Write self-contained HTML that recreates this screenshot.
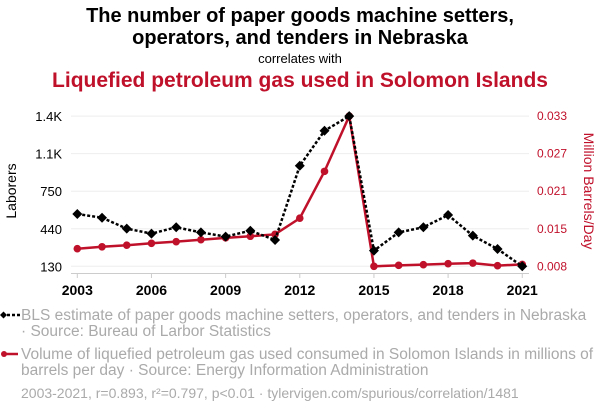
<!DOCTYPE html>
<html><head><meta charset="utf-8">
<style>
body{margin:0;width:600px;height:414px;background:#fff;font-family:"Liberation Sans",sans-serif;overflow:hidden}
svg{display:block}
</style></head><body>
<svg id="chart" width="600" height="414" font-family="Liberation Sans, sans-serif">
<text x="300" y="22" text-anchor="middle" font-size="20" font-weight="bold" fill="#000">The number of paper goods machine setters,</text>
<text x="300" y="44" text-anchor="middle" font-size="20" font-weight="bold" fill="#000">operators, and tenders in Nebraska</text>
<text x="300" y="63" text-anchor="middle" font-size="13" fill="#000">correlates with</text>
<text x="300" y="87" text-anchor="middle" font-size="21" font-weight="bold" fill="#c0112b">Liquefied petroleum gas used in Solomon Islands</text>
<text transform="translate(16,191) rotate(-90)" text-anchor="middle" font-size="14" fill="#000">Laborers</text>
<text transform="translate(584,191) rotate(90)" text-anchor="middle" font-size="14" fill="#c0112b">Million Barrels/Day</text>
<g id="grid"></g><g id="axes"></g><g id="marks"></g>
<g font-size="15.5" fill="#aaa">
<line x1="2" y1="315" x2="20" y2="315" stroke="#000" stroke-width="2.5" stroke-dasharray="3,2"/>
<path d="M0,315 L3.5,311.5 L7,315 L3.5,318.5Z" fill="#000"/>
<text x="21" y="320">BLS estimate of paper goods machine setters, operators, and tenders in Nebraska</text>
<text x="21" y="336">· Source: Bureau of Larbor Statistics</text>
<line x1="2" y1="354" x2="18" y2="354" stroke="#c0112b" stroke-width="2.5"/>
<circle cx="4" cy="354" r="3" fill="#c0112b"/>
<text x="21" y="359">Volume of liquefied petroleum gas used consumed in Solomon Islands in millions of</text>
<text x="21" y="375">barrels per day · Source: Energy Information Administration</text>
<text x="21" y="398" font-size="14">2003-2021, r=0.893, r²=0.797, p&lt;0.01 · tylervigen.com/spurious/correlation/1481</text>
</g>
</svg>
<script>
const years=[2003,2004,2005,2006,2007,2008,2009,2010,2011,2012,2013,2014,2015,2016,2017,2018,2019,2020,2021];
const laborers=[562,531,441,400,452,410,375,424,347,960,1249,1370,259,410,452,553,383,273,130];
const lpg=[0.01093,0.01125,0.01151,0.01183,0.0121,0.01242,0.01274,0.0130,0.01332,0.01600,0.0238,0.033,0.008,0.00816,0.00827,0.00843,0.00853,0.00811,0.00832];
const leftTicks=[130,440,750,1060,1370];
const leftTickLabels=["130","440","750","1.1K","1.4K"];
const rightTicks=[0.008,0.01425,0.0205,0.02675,0.033];
const rightTickLabels=["0.008","0.015","0.021","0.027","0.033"];
const xTicks=[2003,2006,2009,2012,2015,2018,2021];
const NS="http://www.w3.org/2000/svg";
const x=v=>77.3+(v-2003)*24.72;
const yL=v=>266.3-(v-130)/1240*150.2;
const yR=v=>266.3-(v-0.008)/0.025*150.2;
function mk(tag,attrs,parent){const e=document.createElementNS(NS,tag);for(const k in attrs)e.setAttribute(k,attrs[k]);parent.appendChild(e);return e;}
const grid=document.getElementById('grid'),axes=document.getElementById('axes'),marks=document.getElementById('marks');
leftTicks.forEach((t,i)=>{
 const g=mk('line',{x1:71,x2:529,y1:yL(t),y2:yL(t),stroke:'#eee','stroke-width':1},grid);
 
 
 const l=mk('text',{x:62,y:yL(t)+5,'text-anchor':'end','font-size':13,fill:'#000'},axes);l.textContent=leftTickLabels[i];
 
 
});
rightTicks.forEach((t,i)=>{
 const l=mk('text',{x:537,y:yR(t)+4,'font-size':12,fill:'#c0112b'},axes);l.textContent=rightTickLabels[i];
 
 
});
const ax=mk('line',{x1:71,x2:529,y1:273.5,y2:273.5,stroke:'#ccc','stroke-width':1},axes);


xTicks.forEach(t=>{
 const tk=mk('line',{x1:x(t),x2:x(t),y1:273.5,y2:278,stroke:'#ccc'},axes);
 
 
 const l=mk('text',{x:x(t),y:295,'text-anchor':'middle','font-size':14,'font-weight':'bold',fill:'#000'},axes);l.textContent=t;
 
 
});
const rp=mk('polyline',{points:years.map((y,i)=>x(y)+','+yR(lpg[i])).join(' '),fill:'none',stroke:'#c0112b','stroke-width':2.5},marks);


years.forEach((y,i)=>{const c=mk('circle',{cx:x(y),cy:yR(lpg[i]),r:3.8,fill:'#c0112b'},marks);
 
 });
const bp=mk('polyline',{points:years.map((y,i)=>x(y)+','+yL(laborers[i])).join(' '),fill:'none',stroke:'#000','stroke-width':2.5,'stroke-dasharray':'3,2'},marks);


years.forEach((y,i)=>{const cx=x(y),cy=yL(laborers[i]);
 const p=mk('path',{d:`M${cx-5},${cy} L${cx},${cy-5} L${cx+5},${cy} L${cx},${cy+5}Z`,fill:'#000'},marks);
 
 });
</script>
</body></html>
